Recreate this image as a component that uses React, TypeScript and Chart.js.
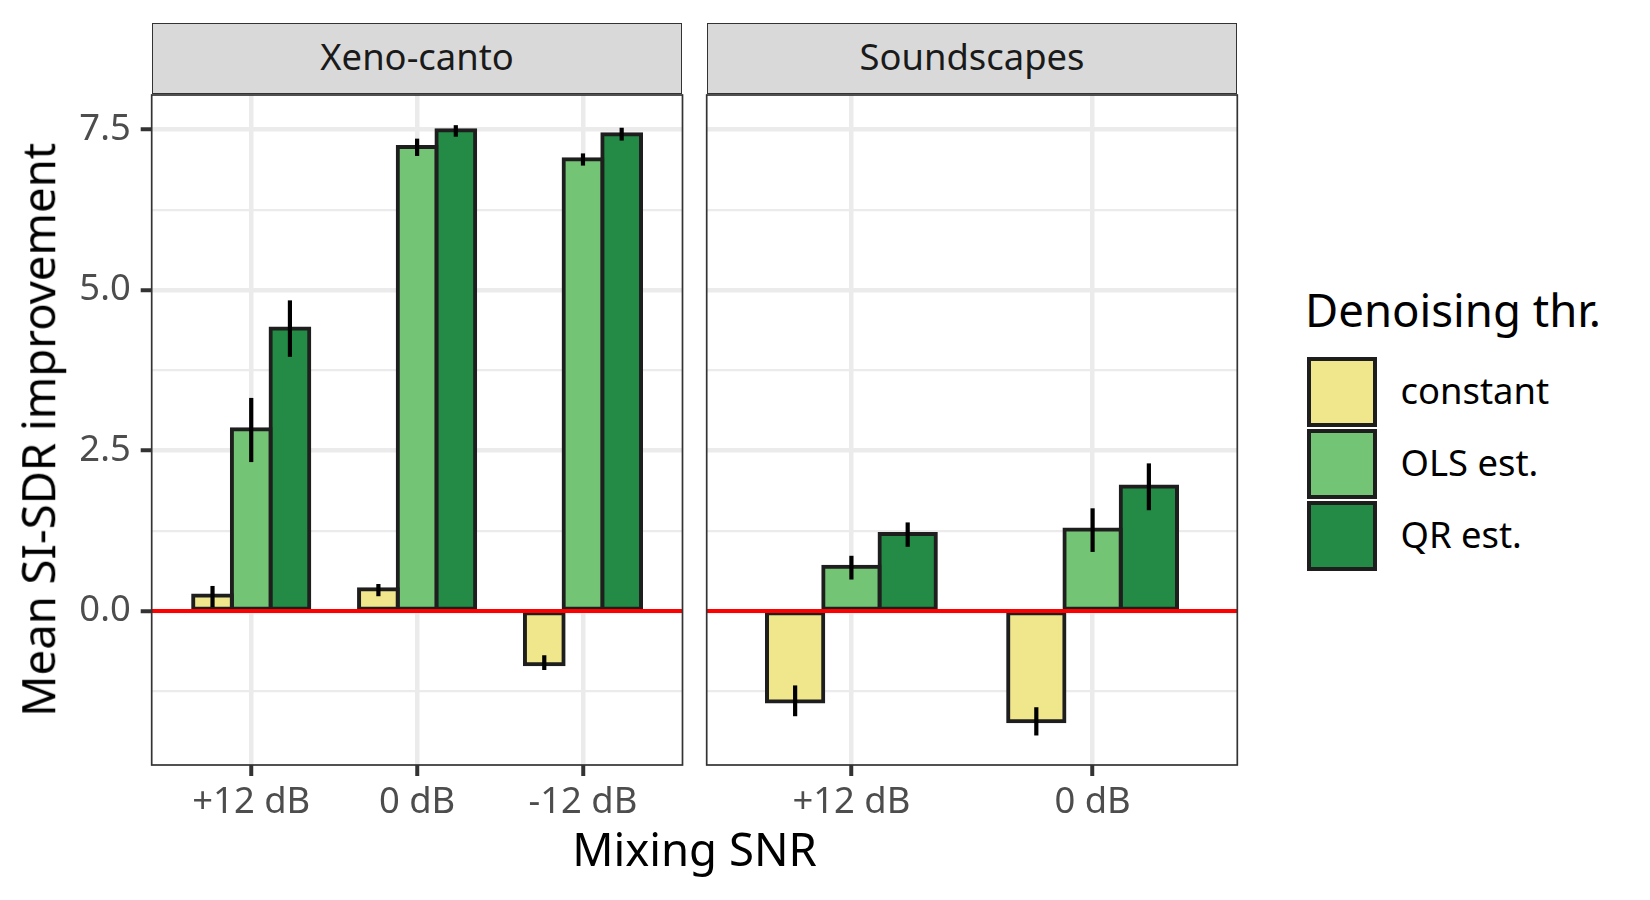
import { useEffect, useRef } from "react"
import { Chart, registerables } from "chart.js"

Chart.register(...registerables)
Chart.defaults.font.family = "'Noto Sans', sans-serif"

// legend / fill groups
const series = ["constant", "OLS est.", "QR est."]
const seriesColors = ["#F0E68C", "#74C476", "#238B45"]

// y axis
const yMajorTicks = [0, 2.5, 5, 7.5]
const yMinorTicks = [-1.25, 1.25, 3.75, 6.25]

// Xeno-canto panel
const xenoCategories = ["+12 dB", "0 dB", "-12 dB"]
const xenoConstant = [0.24, 0.34, -0.83]
const xenoConstantLow = [0.06, 0.23, -0.92]
const xenoConstantHigh = [0.39, 0.42, -0.69]
const xenoOls = [2.83, 7.23, 7.04]
const xenoOlsLow = [2.32, 7.09, 6.94]
const xenoOlsHigh = [3.32, 7.36, 7.13]
const xenoQr = [4.4, 7.49, 7.43]
const xenoQrLow = [3.96, 7.39, 7.33]
const xenoQrHigh = [4.84, 7.57, 7.53]

// Soundscapes panel
const soundCategories = ["+12 dB", "0 dB"]
const soundConstant = [-1.41, -1.72]
const soundConstantLow = [-1.64, -1.94]
const soundConstantHigh = [-1.16, -1.5]
const soundOls = [0.69, 1.27]
const soundOlsLow = [0.49, 0.92]
const soundOlsHigh = [0.86, 1.6]
const soundQr = [1.2, 1.94]
const soundQrLow = [1.0, 1.57]
const soundQrHigh = [1.38, 2.3]

const FONT = "'Noto Sans', sans-serif"
const TICK_SIZE = 36.4
const TITLE_SIZE = 45.5
const PANEL_TOP = 95
const PAD_TOP = 50

interface PanelProps {
  categories: string[]
  means: number[][]
  lows: number[][]
  highs: number[][]
  showY: boolean
  left: number
  width: number
  padLeft: number
  padRight: number
  yAxisWidth: number
}

function Panel({ categories, means, lows, highs, showY, left, width, padLeft, padRight, yAxisWidth }: PanelProps) {
  const canvasRef = useRef<HTMLCanvasElement>(null)

  useEffect(() => {
    if (!canvasRef.current) return

    const overlay = {
      id: "overlay",
      afterDatasetsDraw(chart: Chart) {
        const ctx = chart.ctx
        const y = chart.scales.y
        const area = chart.chartArea
        ctx.save()
        // error bars
        ctx.strokeStyle = "#000000"
        ctx.lineWidth = 4.2
        ctx.lineCap = "butt"
        means.forEach((_, d) => {
          const meta = chart.getDatasetMeta(d)
          meta.data.forEach((el: any, i: number) => {
            ctx.beginPath()
            ctx.moveTo(el.x, y.getPixelForValue(lows[d][i]))
            ctx.lineTo(el.x, y.getPixelForValue(highs[d][i]))
            ctx.stroke()
          })
        })
        // zero line
        const y0 = y.getPixelForValue(0)
        ctx.strokeStyle = "#FF0000"
        ctx.lineWidth = 4
        ctx.beginPath()
        ctx.moveTo(area.left, y0)
        ctx.lineTo(area.right, y0)
        ctx.stroke()
        ctx.restore()
      },
      afterDraw(chart: Chart) {
        const ctx = chart.ctx
        const a = chart.chartArea
        ctx.save()
        ctx.strokeStyle = "#333333"
        ctx.lineWidth = 1.7
        ctx.strokeRect(a.left, a.top, a.right - a.left, a.bottom - a.top)
        ctx.restore()
      },
    }

    const chart = new Chart(canvasRef.current, {
      type: "bar",
      data: {
        datasets: means.map((vals, d) => ({
          label: series[d],
          data: vals.map((v, i) => ({ x: i + 1, y: v })),
          backgroundColor: seriesColors[d],
          borderColor: "#1e1e1e",
          borderWidth: 4,
          borderSkipped: false,
          inflateAmount: 2,
          categoryPercentage: 0.7,
          barPercentage: 1.0,
        })),
      },
      options: {
        animation: false,
        responsive: true,
        maintainAspectRatio: false,
        events: [],
        layout: { padding: { top: PAD_TOP, bottom: 0, left: padLeft, right: padRight } },
        plugins: {
          legend: { display: false },
          tooltip: { enabled: false },
        },
        scales: {
          x: {
            type: "linear",
            offset: false,
            min: 0.4,
            max: categories.length + 0.6,
            afterBuildTicks: (scale: any) => {
              scale.ticks = categories.map((_, i) => ({ value: i + 1 }))
            },
            afterFit: (scale: any) => {
              scale.height = 85
            },
            border: { display: false },
            grid: {
              offset: false,
              color: "#EBEBEB",
              lineWidth: 4.5,
              drawTicks: true,
              tickLength: 11,
              tickWidth: 4,
              tickColor: "#333333",
            },
            ticks: {
              padding: 5,
              color: "#4D4D4D",
              font: { family: FONT, size: TICK_SIZE },
              maxRotation: 0,
              autoSkip: false,
              callback: (value: any) => categories[Math.round(Number(value)) - 1] ?? "",
            },
          },
          y: {
            type: "linear",
            min: -2.4,
            max: 8.04,
            afterBuildTicks: (scale: any) => {
              scale.ticks = [...yMinorTicks, ...yMajorTicks]
                .sort((a, b) => a - b)
                .map((v) => ({ value: v }))
            },
            afterFit: (scale: any) => {
              scale.width = yAxisWidth
            },
            border: { display: false },
            grid: {
              color: "#EBEBEB",
              lineWidth: (c: any) => (yMajorTicks.includes(c.tick?.value) ? 4.5 : 2.2),
              drawTicks: showY,
              tickLength: 11,
              tickWidth: 4,
              tickColor: (c: any) => (yMajorTicks.includes(c.tick?.value) ? "#333333" : "rgba(0,0,0,0)"),
            },
            ticks: {
              display: showY,
              padding: 10,
              color: "#4D4D4D",
              font: { family: FONT, size: TICK_SIZE },
              autoSkip: false,
              callback: (value: any) => (yMajorTicks.includes(Number(value)) ? Number(value).toFixed(1) : ""),
            },
          },
        },
      },
      plugins: [overlay],
    } as any)

    return () => {
      chart.destroy()
    }
  }, [categories, means, lows, highs, showY, padLeft, padRight, yAxisWidth])

  return (
    <div style={{ position: "absolute", left, top: PANEL_TOP - PAD_TOP, width, height: 850 - PANEL_TOP + PAD_TOP }}>
      <canvas ref={canvasRef} />
    </div>
  )
}

function Strip({ label, left, width }: { label: string; left: number; width: number }) {
  return (
    <div
      style={{
        position: "absolute",
        left,
        top: 23.3,
        width,
        height: 70.5,
        background: "#D9D9D9",
        border: "1.7px solid #333333",
        boxSizing: "border-box",
      }}
    >
      <div
        style={{
          position: "absolute",
          left: 0,
          right: 0,
          top: 14,
          textAlign: "center",
          fontSize: TICK_SIZE,
          lineHeight: 1,
          color: "#1A1A1A",
          whiteSpace: "nowrap",
        }}
      >
        {label}
      </div>
    </div>
  )
}

const xenoMeans = [xenoConstant, xenoOls, xenoQr]
const xenoLows = [xenoConstantLow, xenoOlsLow, xenoQrLow]
const xenoHighs = [xenoConstantHigh, xenoOlsHigh, xenoQrHigh]
const soundMeans = [soundConstant, soundOls, soundQr]
const soundLows = [soundConstantLow, soundOlsLow, soundQrLow]
const soundHighs = [soundConstantHigh, soundOlsHigh, soundQrHigh]

export default function App() {
  return (
    <div
      style={{
        position: "absolute",
        left: 0,
        top: 0,
        width: 1650,
        height: 900,
        background: "#FFFFFF",
        fontFamily: FONT,
        overflow: "hidden",
      }}
    >
      <Strip label="Xeno-canto" left={151.7} width={530.8} />
      <Strip label="Soundscapes" left={706.7} width={530.6} />

      <Panel
        categories={xenoCategories}
        means={xenoMeans}
        lows={xenoLows}
        highs={xenoHighs}
        showY={true}
        left={0}
        width={690}
        padLeft={0}
        padRight={7.5}
        yAxisWidth={151.7}
      />
      <Panel
        categories={soundCategories}
        means={soundMeans}
        lows={soundLows}
        highs={soundHighs}
        showY={false}
        left={695}
        width={550}
        padLeft={11.7}
        padRight={7.7}
        yAxisWidth={0}
      />

      {/* y axis title */}
      <div
        style={{
          position: "absolute",
          left: 38.2 - 400,
          top: 430 - TITLE_SIZE / 2,
          width: 800,
          height: TITLE_SIZE,
          lineHeight: 1,
          fontSize: TITLE_SIZE,
          textAlign: "center",
          transform: "rotate(-90deg)",
          color: "#000000",
          whiteSpace: "nowrap",
        }}
      >
        Mean SI-SDR improvement
      </div>

      {/* x axis title */}
      <div
        style={{
          position: "absolute",
          left: 694.5 - 300,
          top: 826.3,
          width: 600,
          lineHeight: 1,
          fontSize: TITLE_SIZE,
          textAlign: "center",
          color: "#000000",
          whiteSpace: "nowrap",
        }}
      >
        Mixing SNR
      </div>

      {/* legend */}
      <div
        style={{
          position: "absolute",
          left: 1305,
          top: 286.9,
          lineHeight: 1,
          fontSize: TITLE_SIZE,
          color: "#000000",
          whiteSpace: "nowrap",
        }}
      >
        Denoising thr.
      </div>
      {series.map((name, i) => (
        <div key={name}>
          <div
            style={{
              position: "absolute",
              left: 1307.3,
              top: 356.7 + i * 72,
              width: 70,
              height: 70,
              boxSizing: "border-box",
              border: "4.3px solid #1e1e1e",
              background: seriesColors[i],
            }}
          />
          <div
            style={{
              position: "absolute",
              left: 1400.5,
              top: 371.7 + i * 72,
              lineHeight: 1,
              fontSize: TICK_SIZE,
              color: "#000000",
              whiteSpace: "nowrap",
            }}
          >
            {name}
          </div>
        </div>
      ))}
    </div>
  )
}
